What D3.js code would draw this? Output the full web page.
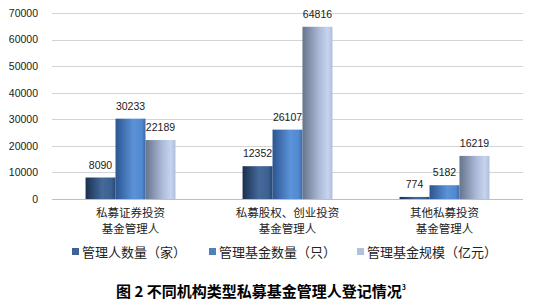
<!DOCTYPE html>
<html>
<head>
<meta charset="utf-8">
<script src="https://cdn.jsdelivr.net/npm/d3@7"></script>
<style>
  body { margin: 0; background: #fff; }
  svg { display: block; }
</style>
</head>
<body>
<svg id="chart" width="536" height="306"></svg>
<script>
const categories = [['私募证券投资', '基金管理人'], ['私募股权、创业投资', '基金管理人'], ['其他私募投资', '基金管理人']];
const seriesNames = ['管理人数量（家）', '管理基金数量（只）', '管理基金规模（亿元）'];
const managers = [8090, 12352, 774];
const funds = [30233, 26107, 5182];
const scale = [22189, 64816, 16219];
const yTicks = [0, 10000, 20000, 30000, 40000, 50000, 60000, 70000];

const series = [managers, funds, scale];
const legendColors = ['#3e6392', '#4f81bd', '#b3c2dc'];
const gradStops = [
  [['0%', '#1b2f4f'], ['55%', '#44699b'], ['85%', '#3d6192'], ['100%', '#2a4670']],
  [['0%', '#2b5590'], ['60%', '#5b93d8'], ['88%', '#5089cf'], ['100%', '#3a68a8']],
  [['0%', '#66738c'], ['55%', '#aab9d6'], ['85%', '#c6d4ef'], ['100%', '#aebdd9']]
];

const svg = d3.select('#chart');
const margin = { left: 52, right: 13, top: 13, bottom: 107 };
const W = 536, H = 306;

const x = d3.scaleBand().domain(d3.range(categories.length)).range([margin.left, W - margin.right]);
const inner = d3.scaleBand().domain(d3.range(series.length))
  .range([0, x.bandwidth()]).paddingInner(0).paddingOuter(1.12);
const y = d3.scaleLinear().domain([0, 70000]).range([H - margin.bottom, margin.top]);

const defs = svg.append('defs');
gradStops.forEach((stops, i) => {
  const g = defs.append('linearGradient').attr('id', 'g' + i)
    .attr('x1', '0%').attr('x2', '100%').attr('y1', '0%').attr('y2', '0%');
  stops.forEach(s => g.append('stop').attr('offset', s[0]).attr('stop-color', s[1]));
});

// gridlines
svg.append('g')
  .selectAll('line')
  .data(yTicks)
  .join('line')
    .attr('x1', margin.left).attr('x2', W - margin.right)
    .attr('y1', d => Math.round(y(d)) + 0.5).attr('y2', d => Math.round(y(d)) + 0.5)
    .attr('stroke', d => d === 0 ? '#bfbfbf' : '#d4d4d4')
    .attr('stroke-width', 1.2);

// y axis labels
const yAxis = svg.append('g')
  .attr('transform', `translate(${margin.left - 14},0)`)
  .call(d3.axisLeft(y).tickValues(yTicks).tickSize(0).tickPadding(0).tickFormat(d3.format('d')));
yAxis.select('.domain').remove();
yAxis.selectAll('text')
  .attr('font-family', 'Liberation Sans, Arial, sans-serif')
  .attr('font-size', 10.5)
  .attr('fill', '#1a1a1a');

// bars
const groups = svg.append('g')
  .selectAll('g')
  .data(categories.map((c, i) => i))
  .join('g')
    .attr('transform', i => `translate(${x(i)},0)`);

groups.selectAll('rect')
  .data(i => series.map((s, k) => ({ k, v: s[i] })))
  .join('rect')
    .attr('x', d => inner(d.k))
    .attr('width', inner.bandwidth())
    .attr('y', d => y(d.v))
    .attr('height', d => y(0) - y(d.v))
    .attr('fill', d => `url(#g${d.k})`);

groups.selectAll('text.val')
  .data(i => series.map((s, k) => ({ k, v: s[i] })))
  .join('text')
    .attr('class', 'val')
    .attr('x', d => inner(d.k) + inner.bandwidth() / 2)
    .attr('y', d => y(d.v) - 9)
    .attr('text-anchor', 'middle')
    .attr('font-family', 'Liberation Sans, Arial, sans-serif')
    .attr('font-size', 10.5)
    .attr('fill', '#1a1a1a')
    .text(d => d.v);

// category labels
const catLabels = svg.append('g')
  .selectAll('text')
  .data(categories)
  .join('text')
    .attr('x', (d, i) => x(i) + x.bandwidth() / 2)
    .attr('y', 217)
    .attr('text-anchor', 'middle')
    .attr('font-family', 'Noto Sans CJK SC, sans-serif')
    .attr('font-size', 11.5)
    .attr('fill', '#222');
catLabels.selectAll('tspan')
  .data(d => d)
  .join('tspan')
    .attr('x', function() { return d3.select(this.parentNode).attr('x'); })
    .attr('dy', (d, j) => j === 0 ? 0 : 16)
    .text(d => d);

// legend
const legendX = [72, 209, 357];
const legend = svg.append('g')
  .selectAll('g')
  .data(seriesNames)
  .join('g')
    .attr('transform', (d, i) => `translate(${legendX[i]},252)`);
legend.append('rect')
  .attr('x', 0).attr('y', -4).attr('width', 7).attr('height', 7)
  .attr('fill', (d, i) => legendColors[i]);
legend.append('text')
  .attr('x', 10).attr('y', 0).attr('dy', '0.35em')
  .attr('font-family', 'Noto Sans CJK SC, sans-serif')
  .attr('font-size', 13)
  .attr('fill', '#222')
  .text(d => d);

// title
const title = svg.append('text')
  .attr('x', 261).attr('y', 297)
  .attr('text-anchor', 'middle')
  .attr('font-family', 'Noto Sans CJK SC, sans-serif')
  .attr('font-size', 15)
  .attr('font-weight', 'bold')
  .attr('fill', '#000');
title.append('tspan').text('图 2 不同机构类型私募基金管理人登记情况');
title.append('tspan').attr('font-size', 7).attr('dy', -7).text('3');
</script>
</body>
</html>
